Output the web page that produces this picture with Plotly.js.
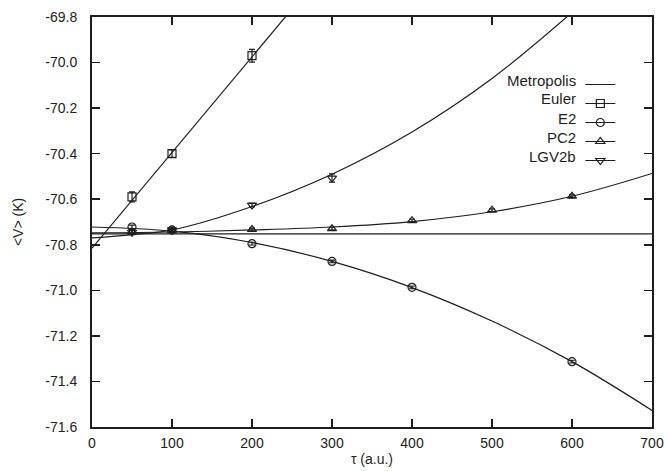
<!DOCTYPE html>
<html><head><meta charset="utf-8">
<script src="https://cdn.plot.ly/plotly-3.0.1.min.js"></script>
<style>html,body{margin:0;padding:0;background:#fff;} #chart{width:669px;height:471px;}</style>
</head><body><div id="chart"></div>
<script>
// ---- data ----
const seriesNames = ['Metropolis', 'Euler', 'E2', 'PC2', 'LGV2b'];

const eulerTau = [50, 100, 200];
const eulerV   = [-70.59, -70.40, -69.97];
const eulerErr = [0.022, 0.016, 0.028];

const e2Tau = [50, 100, 200, 300, 400, 600];
const e2V   = [-70.722, -70.735, -70.795, -70.873, -70.987, -71.313];
const e2Err = [0.008, 0.006, 0.006, 0.006, 0.006, 0.006];

const pc2Tau = [50, 100, 200, 300, 400, 500, 600];
const pc2V   = [-70.745, -70.738, -70.733, -70.729, -70.694, -70.648, -70.587];
const pc2Err = [0.008, 0.006, 0.006, 0.006, 0.006, 0.006, 0.006];

const lgvTau = [50, 100, 200, 300];
const lgvV   = [-70.745, -70.735, -70.626, -70.507];
const lgvErr = [0.010, 0.008, 0.008, 0.018];

// fitted curves, values
const metroTau = [0, 700];
const metroV   = [-70.752, -70.752];
const eulerFitTau = [0, 250];
const eulerFitV   = [-70.815, -69.765];
const e2FitTau = [0, 100, 200, 300, 400, 500, 600, 700];
const e2FitV   = [-70.722, -70.740, -70.790, -70.873, -70.988, -71.135, -71.313, -71.527];
const pc2FitTau = [0, 100, 200, 300, 400, 500, 600, 700];
const pc2FitV   = [-70.748, -70.744, -70.735, -70.722, -70.698, -70.655, -70.587, -70.487];
const lgvFitTau = [0, 50, 100, 200, 300, 400, 500, 600];
const lgvFitV   = [-70.770, -70.755, -70.735, -70.632, -70.490, -70.305, -70.070, -69.780];

const xTickVals = [0, 100, 200, 300, 400, 500, 600, 700];
const xTickText = ['0', '100', '200', '300', '400', '500', '600', '700'];
const yTickVals = [-71.6, -71.4, -71.2, -71.0, -70.8, -70.6, -70.4, -70.2, -70.0, -69.8];
const yTickText = ['-71.6', '-71.4', '-71.2', '-71.0', '-70.8', '-70.6', '-70.4', '-70.2', '-70.0', '-69.8'];

// ---- drawing ----
const ink = '#1e1e1e';
const FONT = 'Liberation Sans, Arial, Helvetica, sans-serif';

// interleave nulls so that a lines+markers trace draws no connecting segments
// (only the legend sample gets its line)
function gapped(a) { const out = []; a.forEach((v, i) => { if (i) out.push(null); out.push(v); }); return out; }

function fitTrace(x, y, shape) {
  return { x: x, y: y, type: 'scatter', mode: 'lines', showlegend: false, hoverinfo: 'skip',
           line: { color: ink, width: 1.2, shape: shape, smoothing: 1 } };
}
function dataTrace(name, x, y, err, symbol) {
  return { name: '', legendgroup: name, x: gapped(x), y: gapped(y), type: 'scatter', mode: 'lines+markers',
           connectgaps: false,
           line: { color: ink, width: 1.2 },
           marker: { symbol: symbol, size: 8, color: ink, line: { color: ink, width: 1.2 } },
           error_y: { type: 'data', array: gapped(err), visible: true, color: ink, thickness: 1.2, width: 3 } };
}

const traces = [
  Object.assign(fitTrace(metroTau, metroV, 'linear'), { showlegend: true, name: '', legendgroup: seriesNames[0] }),
  fitTrace(eulerFitTau, eulerFitV, 'linear'),
  fitTrace(e2FitTau, e2FitV, 'spline'),
  fitTrace(pc2FitTau, pc2FitV, 'spline'),
  fitTrace(lgvFitTau, lgvFitV, 'spline'),
  dataTrace(seriesNames[1], eulerTau, eulerV, eulerErr, 'square-open'),
  dataTrace(seriesNames[2], e2Tau, e2V, e2Err, 'circle-open'),
  dataTrace(seriesNames[3], pc2Tau, pc2V, pc2Err, 'triangle-up-open'),
  dataTrace(seriesNames[4], lgvTau, lgvV, lgvErr, 'triangle-down-open')
];

const legendRowPx = [80, 99, 118, 137, 156];
const annotations = seriesNames.map((n, i) => ({
  text: n, xref: 'paper', yref: 'paper', x: 0.868, xanchor: 'right',
  y: (427 - legendRowPx[i]) / 410, yanchor: 'middle', showarrow: false,
  font: { family: FONT, size: 15, color: ink }
}));

const axisCommon = {
  showgrid: false, zeroline: false, showline: true, linecolor: ink, linewidth: 2,
  mirror: 'ticks', ticks: 'inside', ticklen: 8, tickwidth: 1.6, tickcolor: ink,
  tickfont: { family: FONT, size: 14, color: '#222' }, automargin: false, fixedrange: true
};

const layout = {
  width: 669, height: 471,
  margin: { l: 92, r: 17, t: 17, b: 44 },
  paper_bgcolor: '#fff', plot_bgcolor: '#fff',
  font: { family: FONT, size: 14, color: ink },
  showlegend: true,
  legend: { x: 0.872, y: (427 - 70) / 410, xanchor: 'left', yanchor: 'top',
            bgcolor: 'rgba(0,0,0,0)', borderwidth: 0, itemwidth: 30, traceorder: 'normal',
            font: { family: FONT, size: 12 }, tracegroupgap: 0 },
  xaxis: Object.assign({}, axisCommon, {
    range: [0, 700], tickvals: xTickVals, ticktext: xTickText, ticklabelstandoff: 2,
    title: { text: 'τ (a.u.)', font: { family: FONT, size: 14, color: ink }, standoff: 4 }
  }),
  yaxis: Object.assign({}, axisCommon, {
    range: [-71.6, -69.8], tickvals: yTickVals, ticktext: yTickText, ticklabelstandoff: 10,
    title: { text: '&lt;V&gt; (K)', font: { family: FONT, size: 14, color: ink }, standoff: 18 }
  }),
  annotations: annotations
};

Plotly.newPlot('chart', traces, layout, { displayModeBar: false, staticPlot: true });
</script>
</body></html>
